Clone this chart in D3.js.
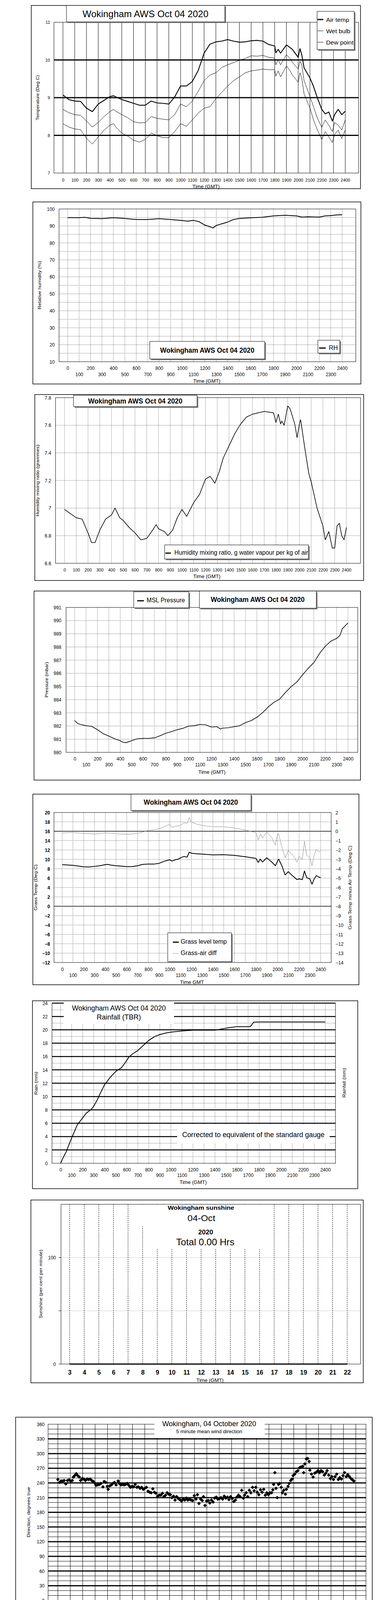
<!DOCTYPE html>
<html>
<head>
<meta charset="utf-8">
<script src="https://cdn.jsdelivr.net/npm/d3@7"></script>
<style>body{margin:0;background:#fff}svg{display:block}</style>
</head>
<body>
<script>
// ---------------- data ----------------
const timeTicks = [0,100,200,300,400,500,600,700,800,900,1000,1100,1200,1300,1400,1500,1600,1700,1800,1900,2000,2100,2200,2300,2400];
const evenTimeTicks = [0,200,400,600,800,1000,1200,1400,1600,1800,2000,2200,2400];
const oddTimeTicks = [100,300,500,700,900,1100,1300,1500,1700,1900,2100,2300];
const hourTicks = [0,1,2,3,4,5,6,7,8,9,10,11,12,13,14,15,16,17,18,19,20,21,22,23,24];
const evenHours = [0,2,4,6,8,10,12,14,16,18,20,22];
const oddHours = [1,3,5,7,9,11,13,15,17,19,21,23];

// temperatures, deg C
const tempTimes = [0,50,100,150,200,250,300,350,400,430,450,500,550,600,650,700,750,800,850,900,950,1000,1050,1100,1150,1200,1250,1300,1350,1400,1450,1500,1550,1600,1650,1700,1750,1800,1810,1830,1850,1900,1930,1950,2000,2015,2030,2050,2100,2130,2160,2200,2230,2260,2290,2310,2340,2370,2400];
const airTemp = [9.07,8.95,8.91,8.90,8.72,8.63,8.83,8.93,9.03,9.05,9.02,8.95,8.90,8.85,8.80,8.80,8.91,8.86,8.85,8.83,9.02,9.31,9.31,9.43,9.72,10.18,10.42,10.48,10.50,10.54,10.50,10.47,10.48,10.51,10.52,10.50,10.41,10.37,10.19,10.28,10.18,10.40,10.33,10.28,10.07,10.30,10.14,9.79,9.52,9.30,9.02,8.69,8.57,8.62,8.38,8.55,8.69,8.55,8.64];
const wetBulb = [8.69,8.60,8.55,8.53,8.38,8.22,8.34,8.50,8.63,8.69,8.64,8.55,8.47,8.36,8.33,8.34,8.50,8.45,8.43,8.41,8.55,8.83,8.76,8.91,9.17,9.45,9.60,9.66,9.80,9.87,9.93,9.99,10.04,10.11,10.10,10.12,10.07,10.05,9.87,10.01,9.87,10.14,10.04,9.94,9.76,9.97,9.87,9.45,9.03,8.76,8.48,8.21,8.41,8.27,8.10,8.34,8.27,8.14,8.41];
const dewPoint = [8.31,8.22,8.17,8.15,7.92,7.77,7.96,8.14,8.27,8.31,8.22,8.06,7.98,7.87,7.82,7.89,8.06,7.99,7.94,7.94,8.10,8.31,8.24,8.41,8.59,8.72,8.76,8.97,9.14,9.31,9.45,9.55,9.66,9.71,9.73,9.76,9.74,9.74,9.57,9.71,9.55,9.84,9.72,9.60,9.41,9.66,9.52,9.10,8.72,8.41,8.17,7.89,8.10,7.96,7.81,8.03,8.14,7.92,8.14];

// relative humidity, %
const rhTimes = [0,100,150,200,300,400,500,600,700,800,900,1000,1050,1100,1150,1200,1250,1270,1300,1350,1400,1450,1500,1600,1700,1800,1900,2000,2050,2100,2200,2250,2300,2350,2400];
const rhValues = [94.9,94.9,95.1,94.5,94.3,94.9,94.4,93.8,93.8,94.3,93.8,93.2,92.8,93.3,92.5,90.5,89.4,88.8,90.3,91.3,92.3,93.8,94.4,94.8,95.1,95.9,96.3,95.9,95.2,95.4,95.2,95.9,96.1,96.5,96.6];

// humidity mixing ratio, g/kg
const mixTimes = [0,50,100,150,200,230,260,300,350,400,430,470,500,550,600,650,700,750,780,800,850,880,920,960,1000,1040,1100,1150,1200,1240,1280,1320,1350,1400,1450,1500,1550,1600,1700,1780,1800,1820,1840,1850,1870,1900,1920,1960,1980,2000,2010,2050,2080,2100,2150,2200,2220,2250,2280,2300,2320,2340,2360,2380,2400];
const mixValues = [6.99,6.96,6.93,6.92,6.82,6.75,6.75,6.84,6.92,6.95,7.00,6.93,6.91,6.86,6.82,6.77,6.78,6.84,6.88,6.85,6.83,6.80,6.84,6.93,6.99,6.94,7.04,7.10,7.21,7.23,7.18,7.27,7.36,7.45,7.54,7.61,7.66,7.68,7.70,7.69,7.62,7.68,7.61,7.63,7.60,7.74,7.72,7.61,7.51,7.61,7.64,7.41,7.25,7.19,7.00,6.87,6.77,6.83,6.71,6.71,6.87,6.89,6.80,6.77,6.86];

// MSL pressure, mbar
const presTimes = [0,30,50,100,150,200,250,300,350,400,420,450,500,550,600,650,700,750,800,850,900,950,1000,1050,1100,1150,1200,1250,1280,1300,1350,1400,1450,1500,1550,1600,1650,1700,1750,1800,1850,1900,1950,2000,2050,2100,2150,2200,2250,2300,2330,2350,2400];
const presValues = [982.41,982.17,982.12,982.02,981.97,981.72,981.42,981.23,981.03,980.88,980.78,980.73,980.88,981.03,981.06,981.06,981.10,981.26,981.45,981.57,981.72,981.82,981.99,982.02,982.12,982.09,981.92,981.95,981.77,981.84,981.87,981.95,982.02,982.26,982.41,982.66,983.01,983.45,983.80,984.04,984.54,984.98,985.33,985.87,986.37,986.81,987.50,988.05,988.44,988.64,988.89,989.38,989.82];

// grass temperature and grass minus air, deg C
const grassTimes = [0,100,200,250,300,350,400,420,450,500,600,650,700,750,800,850,900,950,1000,1020,1050,1080,1100,1130,1160,1180,1200,1250,1300,1400,1500,1600,1700,1800,1820,1840,1860,1900,1950,1980,2000,2010,2040,2070,2100,2130,2160,2180,2200,2230,2250,2270,2300,2320,2340,2360,2380,2400];
const grassTemp = [8.87,8.73,8.42,8.37,8.51,8.65,8.87,8.93,8.79,8.65,8.45,8.45,8.65,8.93,8.99,8.99,9.15,9.63,9.92,9.63,9.92,10.06,10.34,10.62,10.48,11.52,11.32,11.18,11.13,10.96,10.99,10.85,10.56,10.20,9.35,10.06,9.44,10.34,9.35,8.65,9.63,10.06,8.65,6.68,7.38,6.68,6.11,5.69,5.83,5.69,7.52,6.11,5.83,4.70,5.83,6.54,6.25,6.11];
const grassDiff = [-0.18,-0.13,-0.23,-0.27,-0.30,-0.25,-0.18,-0.18,-0.22,-0.27,-0.32,-0.30,-0.23,-0.08,0.10,0.15,0.27,0.48,0.76,0.41,0.55,0.58,0.62,0.90,0.85,1.46,0.97,0.76,0.62,0.48,0.48,0.34,0.13,-0.15,-0.93,-0.30,-0.72,-0.08,-0.72,-1.49,-0.30,-0.25,-1.70,-2.83,-2.06,-2.41,-2.83,-3.32,-2.69,-2.97,-1.07,-2.55,-2.83,-3.68,-2.55,-1.92,-2.20,-2.13];

// accumulated rainfall, mm
const rainTimes = [0,20,50,100,150,200,230,280,300,330,360,400,450,500,550,580,620,650,700,750,800,850,900,950,1000,1100,1200,1300,1400,1450,1500,1550,1600,1720,1750,1800,2400];
const rainMm = [0,0.74,1.71,3.78,5.73,6.81,7.47,8.12,8.55,9.42,10.5,11.8,12.89,13.76,14.3,14.95,15.93,16.36,16.9,17.66,18.42,18.97,19.29,19.51,19.66,19.83,19.94,19.94,19.94,20.09,20.26,20.37,20.48,20.48,21.14,21.18,21.18];

// sunshine, per cent per minute
const sunHours = [3,4,5,6,7,8,9,10,11,12,13,14,15,16,17,18,19,20,21,22];
const sunValues = [0,0,0,0,0,0,0,0,0,0,0,0,0,0,0,0,0,0,0,0];

// 5 minute mean wind direction, degrees true
const dirHours = [0.00,0.14,0.26,0.39,0.51,0.64,0.77,0.90,1.03,1.16,1.25,1.35,1.48,1.60,1.73,1.83,1.96,2.09,2.22,2.35,2.47,2.60,2.73,2.86,2.99,3.08,3.21,3.34,3.47,3.63,3.73,3.86,3.98,4.05,4.18,4.31,4.43,4.56,4.69,4.85,4.95,5.08,5.20,5.33,5.46,5.59,5.72,5.85,5.98,6.10,6.23,6.36,6.49,6.62,6.75,6.88,7.00,7.13,7.26,7.39,7.52,7.65,7.77,7.90,8.03,8.16,8.29,8.42,8.54,8.67,8.80,8.93,9.06,9.19,9.32,9.44,9.57,9.70,9.83,9.96,10.09,10.22,10.35,10.47,10.60,10.73,10.86,10.99,11.12,11.24,11.37,11.50,11.63,11.73,11.85,11.98,12.11,12.24,12.37,12.50,12.63,12.76,12.88,13.01,13.14,13.27,13.40,13.53,13.65,13.78,13.91,14.04,14.17,14.30,14.42,14.55,14.68,14.81,14.94,15.04,15.17,15.29,15.42,15.55,15.68,15.81,15.94,16.06,16.19,16.32,16.45,16.58,16.71,16.83,16.96,17.09,17.22,17.32,17.38,17.48,17.57,17.67,17.77,17.86,17.99,18.09,18.19,18.33,18.41,18.54,18.63,18.76,18.86,18.95,19.08,19.21,19.34,19.47,19.60,19.73,19.80,19.89,20.02,20.12,20.24,20.30,20.43,20.56,20.69,20.82,20.95,21.08,21.20,21.33,21.46,21.59,21.69,21.82,21.95,22.07,22.20,22.33,22.46,22.59,22.71,22.84,22.97,23.10,23.23,23.35,23.48,23.61,23.74,23.84];
const dirDegrees = [247,241,244,244,245,238,245,246,244,245,252,255,259,255,252,245,249,248,245,248,247,248,245,243,239,235,236,237,239,232,243,241,233,227,234,236,239,241,236,244,239,236,237,236,237,239,235,231,233,232,237,231,232,229,231,227,229,231,223,221,220,228,221,219,213,215,215,219,212,215,220,217,216,210,213,205,212,208,206,203,207,205,209,205,207,205,204,214,207,216,198,207,204,212,194,203,204,199,205,201,209,211,207,208,210,207,213,209,211,206,212,208,202,205,211,215,212,225,209,215,220,212,225,220,231,224,231,221,216,226,221,227,215,220,216,220,220,226,237,261,229,210,237,239,231,220,225,217,227,233,239,245,248,255,258,263,265,271,273,274,261,279,289,290,284,266,258,252,260,262,265,261,265,263,256,260,265,256,249,253,247,253,258,247,251,248,255,261,253,257,253,249,246,244];

// wind speed, knots
const meanHours = [0,0.25,0.5,0.75,1,1.25,1.5,1.75,2,2.25,2.5,2.75,3,3.25,3.5,3.75,4,4.25,4.5,4.75,5,5.25,5.5,5.75,6,6.25,6.5,6.75,7,7.25,7.5,7.75,8,8.25,8.5,8.75,9,9.25,9.5,9.75,10,10.25,10.5,10.75,11,11.25,11.5,11.75,12,12.25,12.5,12.75,13,13.25,13.5,13.75,14,14.25,14.5,14.75,15,15.25,15.5,15.75,16,16.25,16.5,16.75,17,17.25,17.5,17.75,18,18.25,18.5,18.75,19,19.25,19.5,19.75,20,20.25,20.5,20.75,21,21.25,21.5,21.75,22,22.25,22.5,22.75,23,23.25,23.5,23.75,23.9];
const meanKnots = [7.47,8.8,7.7,8.25,9.3,8.25,8.5,8.0,9.3,9.8,9.3,8.9,8.8,8.25,8.5,8.7,8.25,9.0,10.3,11.1,10.6,11.3,11.1,10.6,10.6,10.3,9.5,10.3,11.4,11.0,10.1,10.6,10.3,10.9,11.3,11.6,10.4,11.8,10.9,11.6,11.0,11.1,11.9,12.4,11.1,11.6,11.4,10.3,11.9,13.2,12.7,12.0,11.8,12.2,12.5,12.0,11.4,10.6,10.1,9.8,10.3,9.8,10.1,9.4,8.5,7.7,7.5,7.2,6.7,5.6,4.6,5.6,5.1,4.7,4.6,5.1,5.9,5.1,4.1,3.6,2.6,4.3,3.6,3.0,4.1,4.5,4.1,3.1,3.0,3.4,3.6,3.6,4.2,4.6,4.7,3.3,3.8];
const gustHours = [0.0,0.1,0.2,0.3,0.45,0.6,0.75,0.9,1.0,1.2,1.35,1.5,1.65,1.8,2.0,2.1,2.3,2.5,2.65,2.8,3.0,3.15,3.3,3.5,3.65,3.8,4.0,4.1,4.3,4.45,4.6,4.75,4.9,5.05,5.25,5.4,5.55,5.7,5.85,6.0,6.15,6.3,6.5,6.6,6.75,6.9,7.1,7.25,7.4,7.55,7.8,7.95,8.1,8.3,8.5,8.65,8.85,9.0,9.15,9.3,9.5,9.65,9.8,9.95,10.1,10.25,10.4,10.6,10.75,10.9,11.05,11.2,11.35,11.5,11.7,11.9,12.1,12.25,12.4,12.55,12.7,12.85,13.05,13.2,13.35,13.5,13.65,13.8,13.95,14.1,14.25,14.4,14.55,14.7,14.85,15.0,15.15,15.3,15.45,15.6,15.75,15.9,16.05,16.2,16.35,16.5,16.7,16.85,17.0,17.15,17.3,17.45,17.6,17.75,17.9,18.05,18.2,18.35,18.5,18.65,18.8,18.95,19.1,19.25,19.4,19.55,19.7,19.85,20.0,20.1,20.25,20.4,20.55,20.7,20.85,21.0,21.15,21.3,21.45,21.6,21.75,21.9,22.05,22.2,22.35,22.5,22.65,22.8,22.95,23.1,23.25,23.4,23.55,23.7,23.85,23.95];
const gustKnots = [14.5,12.4,16.3,11.4,15.6,10.3,13.5,17.1,11.4,16.9,12.4,15.6,11.4,15.0,18.2,12.4,16.3,11.4,14.3,10.6,14.5,10.3,14.8,11.4,14.5,11.1,13.5,16.3,12.4,15.6,20.0,14.5,17.9,13.5,21.6,15.0,18.2,14.0,17.1,12.9,16.6,12.4,19.7,13.5,21.0,14.5,20.5,14.0,17.1,13.5,21.0,14.3,18.2,12.9,19.7,14.0,18.2,14.8,19.2,13.5,23.3,15.6,20.0,15.0,21.9,14.5,18.2,15.6,21.8,14.5,18.2,14.0,19.7,14.3,17.6,14.8,23.7,15.6,21.3,17.1,21.8,15.6,24.9,16.6,20.5,16.1,20.0,14.5,19.7,14.0,19.0,13.5,19.0,12.9,18.2,14.0,18.2,12.9,19.0,12.4,17.6,11.4,15.6,10.3,15.0,9.8,12.4,8.8,10.6,8.25,10.1,6.7,8.25,6.2,7.7,5.6,8.25,5.6,7.5,6.2,8.8,6.4,10.9,7.7,5.1,6.7,4.6,6.2,8.5,5.4,8.25,5.1,6.2,4.9,7.5,5.1,7.2,5.6,4.3,5.6,4.3,5.1,4.3,5.6,4.6,5.9,4.6,5.6,4.9,6.9,5.4,7.5,5.9,4.6,6.2,5.4];
// low speeds shown at x10 scale
const diamondHours = [19.79,19.80,19.82,19.84,19.86,19.89,19.90,19.92,19.94,19.97,19.99,20.02,20.01,20.14,20.15,20.12,20.10,20.12,20.08,20.09,20.47,20.51,20.50,20.53,20.56,20.57,20.59,20.63,20.66,20.74,20.86,20.87,20.84,20.84,20.82,20.94,20.94,20.89,21.54,21.54,21.57,21.60,21.63,21.65,21.68,21.81,21.84,21.88,21.86,21.91,21.94,21.98,22.04,22.11,22.14,22.09,22.17,22.27,22.25,22.29,22.37,22.43,22.50,22.57,22.65,22.60,22.73,22.80,22.86,22.93,22.98,23.05,23.08,23.10,23.13,23.16,23.06,23.75,23.77,23.95,23.92,23.93,23.78,23.82,23.86,23.85,24.00];
const diamondKnots = [39.2,37.4,37.0,36.5,35.2,32.8,32.1,31.3,30.0,28.2,26.4,25.1,24.5,39.1,35.7,33.2,31.3,30.4,29.1,28.2,39.6,37.6,35.9,34.8,33.5,32.6,31.1,30.2,29.3,27.8,37.0,36.0,33.5,32.4,31.1,39.2,38.5,34.1,38.8,37.0,35.7,34.1,33.0,31.9,31.3,36.5,35.9,35.2,34.3,33.7,32.6,31.3,30.8,30.4,29.5,32.4,33.0,35.9,34.6,33.5,32.6,32.1,31.1,37.0,37.9,35.7,36.0,35.0,34.6,35.7,36.3,34.3,35.9,37.4,38.5,39.6,37.0,39.2,37.4,38.3,37.0,35.7,34.8,33.5,32.8,32.1,38.5];

// ---------------- helpers ----------------
const NARROW = "'Liberation Sans Narrow','Arial Narrow',sans-serif";
const WIDE = "'Liberation Sans',Arial,sans-serif";
const TITLE = "Wokingham AWS Oct 04 2020";

const svg = d3.select("body").append("svg").attr("width", 1000).attr("height", 5000);
svg.append("rect").attr("width", 1000).attr("height", 5000).attr("fill", "#fff");

function box(x0, y0, x1, y1, o = {}) {
  if (o.shadow) svg.append("rect").attr("x", x0 + 3).attr("y", y0 + 3)
    .attr("width", x1 - x0).attr("height", y1 - y0).attr("fill", "#808080");
  svg.append("rect").attr("x", x0).attr("y", y0).attr("width", x1 - x0).attr("height", y1 - y0)
    .attr("fill", o.fill || "none").attr("stroke", o.stroke === undefined ? "#000" : o.stroke)
    .attr("stroke-width", o.sw || 1.5);
}

function txt(x, y, s, o = {}) {
  const t = svg.append("text").attr("x", x).attr("y", y)
    .attr("text-anchor", o.anchor || "middle").attr("dominant-baseline", "central")
    .attr("font-family", o.font || NARROW).attr("font-size", o.size || 13)
    .attr("font-weight", o.bold ? "bold" : "normal").attr("fill", "#000").text(s);
  if (o.len) t.attr("textLength", o.len).attr("lengthAdjust", "spacingAndGlyphs");
  if (o.rot) t.attr("transform", `rotate(-90 ${x} ${y})`);
  return t;
}
// rotated, letter-spaced axis titles
function yTitle(x, y, s, len) { return txt(x, y, s, {font: WIDE, size: 11, len: len, rot: true}); }

function hGrid(vals, y, x0, x1, o = {}) {
  svg.append("g").selectAll("line").data(vals).join("line")
    .attr("x1", x0).attr("x2", x1).attr("y1", d => y(d)).attr("y2", d => y(d))
    .attr("stroke", o.color || "#000").attr("stroke-width", o.w || 1)
    .attr("stroke-dasharray", o.dash || null);
}
function vGrid(vals, x, y0, y1, o = {}) {
  svg.append("g").selectAll("line").data(vals).join("line")
    .attr("x1", d => x(d)).attr("x2", d => x(d)).attr("y1", y0).attr("y2", y1)
    .attr("stroke", o.color || "#000").attr("stroke-width", o.w || 1)
    .attr("stroke-dasharray", o.dash || null);
}

function bottomLabels(scale, vals, y, o = {}) {
  const g = svg.append("g").attr("transform", `translate(0,${y})`)
    .call(d3.axisBottom(scale).tickValues(vals).tickSize(0).tickFormat(o.fmt || d3.format("d")));
  g.select(".domain").remove();
  g.selectAll("text").attr("y", 0).attr("dy", "0.35em")
    .attr("font-family", o.font || NARROW).attr("font-size", o.size || 12)
    .attr("font-weight", o.bold ? "bold" : "normal").attr("fill", "#000");
}
function sideLabels(scale, vals, x, o = {}) {
  const ax = o.right ? d3.axisRight(scale) : d3.axisLeft(scale);
  const g = svg.append("g").attr("transform", `translate(${x},0)`)
    .call(ax.tickValues(vals).tickSize(0).tickPadding(0).tickFormat(o.fmt || d3.format("d")));
  g.select(".domain").remove();
  g.selectAll("text").attr("x", 0).attr("dy", "0.35em")
    .attr("font-family", o.font || NARROW).attr("font-size", o.size || 12)
    .attr("font-weight", o.bold ? "bold" : "normal").attr("fill", "#000");
}

function clipRect(id, x0, y0, x1, y1) {
  svg.append("clipPath").attr("id", id).append("rect")
    .attr("x", x0).attr("y", y0).attr("width", x1 - x0).attr("height", y1 - y0);
}
function series(xs, ys, x, y, o = {}) {
  const line = d3.line().x((d, i) => x(xs[i])).y(d => y(d));
  svg.append("path").datum(ys).attr("d", line).attr("fill", "none")
    .attr("stroke", o.color || "#000").attr("stroke-width", o.w || 1)
    .attr("stroke-linejoin", "round").attr("clip-path", o.clip ? `url(#${o.clip})` : null);
}
function legendLine(x0, x1, y, o = {}) {
  svg.append("line").attr("x1", x0).attr("x2", x1).attr("y1", y).attr("y2", y)
    .attr("stroke", o.color || "#000").attr("stroke-width", o.w || 1);
}
const DOT = "1,2";

// ---------------- 1. temperatures ----------------
{
  const x = d3.scaleLinear().domain([0, 2400]).range([161, 883]);
  const y = d3.scaleLinear().domain([7, 11]).range([443, 57]);
  box(80, 14, 922, 483);
  vGrid(timeTicks, x, 57, 443);
  hGrid([8, 9, 10], y, 138, 917, {w: 3});
  box(138, 57, 917, 443, {sw: 1});
  clipRect("c1", 138, 57, 917, 443);
  series(tempTimes, dewPoint, x, y, {w: 1, clip: "c1"});
  series(tempTimes, wetBulb, x, y, {w: 1, clip: "c1"});
  series(tempTimes, airTemp, x, y, {w: 2.2, clip: "c1"});
  box(170, 14, 575, 56, {shadow: true, fill: "#fff", sw: 1});
  txt(372, 35, TITLE, {size: 24, len: 322});
  box(811, 29, 906, 127, {shadow: true, fill: "#fff", sw: 1});
  legendLine(812, 827, 50, {w: 3});
  legendLine(812, 827, 79);
  legendLine(812, 827, 108);
  txt(834, 50, "Air temp", {anchor: "start", size: 15, len: 59});
  txt(834, 79, "Wet bulb", {anchor: "start", size: 15, len: 62});
  txt(834, 108, "Dew point", {anchor: "start", size: 15, len: 70});
  sideLabels(y, [7, 8, 9, 10, 11], 128, {font: WIDE, size: 11});
  bottomLabels(x, timeTicks, 461, {size: 11});
  txt(527, 477, "Time (GMT)", {size: 13});
  yTitle(96, 250, "Temperature (Deg C)", 116);
}

// ---------------- 2. relative humidity ----------------
{
  const x = d3.scaleLinear().domain([0, 2400]).range([173, 875]);
  const y = d3.scaleLinear().domain([10, 100]).range([926, 535]);
  box(84, 517, 923, 983);
  hGrid([15,20,25,30,35,40,45,50,55,60,65,70,75,80,85,90,95], y, 151, 910, {dash: DOT});
  vGrid(timeTicks, x, 535, 926, {dash: DOT});
  box(151, 535, 910, 926, {sw: 1});
  clipRect("c2", 151, 535, 910, 926);
  series(rhTimes, rhValues, x, y, {w: 2, clip: "c2"});
  box(383, 874, 677, 919, {shadow: true, fill: "#fff", sw: 1});
  txt(530, 897, TITLE, {size: 18, bold: true, len: 241});
  box(813, 871, 869, 904, {shadow: true, fill: "#fff", sw: 1});
  legendLine(816, 833, 891, {w: 3});
  txt(841, 890, "RH", {anchor: "start", size: 16, len: 23});
  sideLabels(y, [10,20,30,40,50,60,70,80,90,100], 140);
  bottomLabels(x, evenTimeTicks, 943);
  bottomLabels(x, oddTimeTicks, 959);
  txt(529, 975, "Time (GMT)", {size: 13});
  yTitle(101, 730, "Relative humidity (%)", 124);
}

// ---------------- 3. mixing ratio ----------------
{
  const x = d3.scaleLinear().domain([0, 2400]).range([165, 886]);
  const y = d3.scaleLinear().domain([6.6, 7.8]).range([1442, 1018]);
  box(89, 1010, 930, 1486);
  hGrid([6.8, 7.0, 7.2, 7.4, 7.6], y, 142, 922, {dash: DOT});
  vGrid(timeTicks, x, 1018, 1442, {dash: DOT});
  box(142, 1018, 922, 1442, {sw: 1});
  clipRect("c3", 142, 1018, 922, 1442);
  series(mixTimes, mixValues, x, y, {w: 1.6, clip: "c3"});
  box(188, 1012, 504, 1041, {shadow: true, fill: "#fff", sw: 1});
  txt(346, 1027, TITLE, {size: 18, bold: true, len: 241});
  box(421, 1395, 789, 1431, {shadow: true, fill: "#fff", sw: 1});
  legendLine(423, 437, 1416, {w: 3});
  txt(446, 1414, "Humidity mixing ratio, g water vapour per kg of air", {anchor: "start", size: 16, len: 342});
  sideLabels(y, [6.6, 6.8, 7.0, 7.2, 7.4, 7.6, 7.8], 131, {fmt: d => d3.format(".1f")(d).replace(".0", "")});
  bottomLabels(x, timeTicks, 1459, {size: 11});
  txt(529, 1475, "Time (GMT)", {size: 13});
  yTitle(96, 1230, "Humidity mixing ratio (grammes)", 184);
}

// ---------------- 4. pressure ----------------
{
  const x = d3.scaleLinear().domain([0, 2400]).range([191, 890]);
  const y = d3.scaleLinear().domain([980, 991]).range([1926, 1555]);
  box(87, 1513, 922, 1997);
  hGrid([981,982,983,984,985,986,987,988,989,990], y, 169, 915, {dash: DOT});
  vGrid(timeTicks, x, 1555, 1926, {dash: DOT});
  box(169, 1555, 915, 1926, {sw: 1});
  clipRect("c4", 169, 1555, 915, 1926);
  series(presTimes, presValues, x, y, {w: 1.6, clip: "c4"});
  box(342, 1515, 483, 1556, {shadow: true, fill: "#fff", sw: 1});
  legendLine(351, 368, 1538, {w: 3});
  txt(375, 1536, "MSL Pressure", {anchor: "start", size: 16, len: 98});
  box(510, 1513, 809, 1557, {shadow: true, fill: "#fff", sw: 1});
  txt(659, 1535, TITLE, {size: 18, bold: true, len: 240});
  sideLabels(y, [980,981,982,983,984,985,986,987,988,989,990,991], 157);
  bottomLabels(x, evenTimeTicks, 1943);
  bottomLabels(x, oddTimeTicks, 1958);
  txt(542, 1976, "Time (GMT)", {size: 13});
  yTitle(119, 1740, "Pressure (mbar)", 91);
}

// ---------------- 5. grass temperature ----------------
{
  const x = d3.scaleLinear().domain([0, 2400]).range([159, 820]);
  const y = d3.scaleLinear().domain([-12, 20]).range([2464, 2080]);
  const yR = d3.scaleLinear().domain([-14, 2]).range([2464, 2080]);
  box(84, 2033, 918, 2521);
  hGrid([-10,-8,-6,-4,-2,2,4,6,8,10,12,14,18], y, 138, 847, {dash: DOT});
  hGrid([0, 16], y, 138, 847, {w: 1.5});
  vGrid(timeTicks, x, 2080, 2464, {dash: DOT});
  box(138, 2080, 847, 2464, {sw: 1});
  clipRect("c5", 138, 2080, 847, 2464);
  series(grassTimes, grassDiff, x, yR, {w: 1, color: "#8c8c8c", clip: "c5"});
  series(grassTimes, grassTemp, x, y, {w: 2, clip: "c5"});
  box(335, 2033, 642, 2075, {shadow: true, fill: "#fff", sw: 1});
  txt(488, 2054, TITLE, {size: 18, bold: true, len: 241});
  box(429, 2388, 592, 2462, {shadow: true, fill: "#fff", sw: 1});
  legendLine(442, 457, 2412, {w: 3});
  legendLine(442, 457, 2441, {color: "#8c8c8c"});
  txt(462, 2410, "Grass level temp", {anchor: "start", size: 16, len: 118});
  txt(462, 2439, "Grass-air diff", {anchor: "start", size: 16, len: 92});
  sideLabels(y, [-12,-10,-8,-6,-4,-2,0,2,4,6,8,10,12,14,16,18,20], 128, {bold: true});
  sideLabels(yR, [-14,-13,-12,-11,-10,-9,-8,-7,-6,-5,-4,-3,-2,-1,0,1,2], 858, {right: true});
  bottomLabels(x, evenTimeTicks, 2482);
  bottomLabels(x, oddTimeTicks, 2497);
  txt(491, 2514, "Time GMT", {size: 13});
  yTitle(91, 2272, "Grass Temp (Deg C)", 118);
  yTitle(895, 2272, "Grass Temp minus Air Temp (Deg C)", 215);
}

// ---------------- 6. rainfall ----------------
{
  const x = d3.scaleLinear().domain([0, 2400]).range([155, 832]);
  const y = d3.scaleLinear().domain([0, 24]).range([2978, 2568]);
  box(83, 2562, 915, 3043);
  hGrid([1,3,5,7,9,11,13,15,17,19,21,23], y, 133, 858, {dash: DOT});
  vGrid(timeTicks, x, 2568, 2978, {dash: DOT});
  hGrid([2,4,6,8,10,12,14,16,18,20,22,24], y, 133, 858, {w: 2.5});
  box(133, 2568, 858, 2978, {sw: 1});
  svg.append("rect").attr("x", 163).attr("y", 2566).attr("width", 282).attr("height", 55).attr("fill", "#fff");
  svg.append("rect").attr("x", 453).attr("y", 2880).attr("width", 390).attr("height", 48).attr("fill", "#fff");
  clipRect("c6", 133, 2568, 858, 2978);
  series(rainTimes, rainMm, x, y, {w: 2, clip: "c6"});
  txt(304, 2581, TITLE, {size: 18, len: 240});
  txt(304, 2604, "Rainfall (TBR)", {size: 18, len: 113});
  txt(466, 2905, "Corrected to equivalent of the standard gauge", {anchor: "start", size: 18, len: 364});
  sideLabels(y, [0,2,4,6,8,10,12,14,16,18,20,22,24], 122);
  bottomLabels(x, evenTimeTicks, 2995);
  bottomLabels(x, oddTimeTicks, 3009);
  txt(494, 3026, "Time (GMT)", {size: 13});
  yTitle(92, 2773, "Rain (mm)", 59);
  yTitle(880, 2772, "Rainfall (mm)", 76);
}

// ---------------- 7. sunshine ----------------
{
  const x = d3.scaleLinear().domain([3, 22]).range([178, 888]);
  const y = d3.scaleLinear().domain([0, 150]).range([3492, 3083]);
  box(79, 3072, 929, 3540);
  hGrid([50, 100], y, 156, 922, {dash: "1,1", color: "#9a9a9a"});
  vGrid(sunHours, x, 3083, 3492, {dash: "3,2"});
  box(156, 3083, 922, 3492, {sw: 1});
  svg.append("g").selectAll("line").data([0, 50, 100]).join("line")
    .attr("x1", 150).attr("x2", 156).attr("y1", d => y(d)).attr("y2", d => y(d))
    .attr("stroke", "#000");
  svg.append("rect").attr("x", 351).attr("y", 3084).attr("width", 331).attr("height", 55).attr("fill", "#fff");
  svg.append("rect").attr("x", 367).attr("y", 3138).attr("width", 300).attr("height", 58).attr("fill", "#fff");
  series(sunHours, sunValues, x, y, {w: 3});
  txt(514, 3091, "Wokingham sunshine", {size: 15, bold: true, len: 170});
  txt(515, 3118, "04-Oct", {size: 22, len: 71});
  txt(526, 3154, "2020", {size: 16, bold: true, len: 38});
  txt(525, 3179, "Total 0.00 Hrs", {size: 24, len: 149});
  sideLabels(y, [0, 100], 143);
  bottomLabels(x, sunHours, 3513, {size: 16, bold: true});
  txt(537, 3533, "Time (GMT)", {size: 13});
  yTitle(104, 3287, "Sunshine (per cent per minute)", 176);
}

// ---------------- 8. wind direction ----------------
{
  const x = d3.scaleLinear().domain([0, 24]).range([148, 910]);
  const y = d3.scaleLinear().domain([0, 360]).range([4097, 3646]);
  box(40, 3628, 952, 4144);
  hGrid([10,20,40,50,70,80,100,110,130,140,160,170,190,200,220,230,250,260,280,290,310,320,340,350], y, 123, 936);
  vGrid(hourTicks, x, 3646, 4097);
  hGrid([30,60,90,120,150,180,210,240,270,300,330], y, 123, 936, {w: 3});
  box(123, 3646, 936, 4097, {sw: 1});
  svg.append("rect").attr("x", 395).attr("y", 3633).attr("width", 282).attr("height", 48).attr("fill", "#fff");
  svg.append("g").selectAll("path").data(dirDegrees).join("path")
    .attr("d", d3.symbol(d3.symbolSquare, 42))
    .attr("transform", (d, i) => `translate(${x(dirHours[i])},${y(d)}) rotate(45)`)
    .attr("fill", "#000");
  txt(535, 3645, "Wokingham,  04 October 2020", {size: 18, len: 240});
  txt(535, 3665, "5 minute mean wind direction", {size: 12, len: 169});
  sideLabels(y, [0,30,60,90,120,150,180,210,240,270,300,330,360], 114);
  bottomLabels(x, hourTicks, 4114, {size: 13});
  txt(528, 4132, "Time (GMT)", {size: 13});
  yTitle(73, 3871, "Direction, degrees true", 129);
}

// ---------------- 9. wind speed ----------------
{
  const x = d3.scaleLinear().domain([0, 23]).range([123, 874]);
  const y = d3.scaleLinear().domain([0, 50]).range([4591, 4211]);
  box(42, 4168, 955, 4663);
  hGrid([5,10,15,20,25,30,35,40,45], y, 101, 949, {dash: DOT});
  vGrid(evenHours.concat(oddHours), x, 4211, 4591, {dash: DOT});
  box(101, 4211, 949, 4591, {sw: 1});
  clipRect("c9", 101, 4211, 949, 4591);
  series(gustHours, gustKnots, x, y, {w: 1.1, color: "#4a4a4a", clip: "c9"});
  series(meanHours, meanKnots, x, y, {w: 2, clip: "c9"});
  svg.append("g").selectAll("path").data(diamondKnots).join("path")
    .attr("d", d3.symbol(d3.symbolSquare, 34))
    .attr("transform", (d, i) => `translate(${x(diamondHours[i])},${y(d)}) rotate(45)`)
    .attr("fill", "#c8c8c8").attr("stroke", "#000").attr("stroke-width", 0.8);
  txt(270, 4190, "Wokingham,  04 October 2020", {size: 20, bold: true, len: 243});
  txt(578, 4181, "Wind speed, 10 min mean / max gust", {size: 13, len: 218});
  txt(578, 4197, "Speeds below 4 kt shown at x10 scale", {size: 13, len: 209});
  box(731, 4174, 950, 4199, {shadow: true, fill: "#fff", sw: 1});
  legendLine(762, 773, 4188, {w: 3});
  txt(781, 4187, "Speed x 1", {anchor: "start", size: 11, len: 46});
  svg.append("path").attr("d", d3.symbol(d3.symbolSquare, 30))
    .attr("transform", "translate(853,4188) rotate(45)")
    .attr("fill", "#c8c8c8").attr("stroke", "#000").attr("stroke-width", 0.8);
  txt(865, 4187, "Speed / 10", {anchor: "start", size: 11, len: 51});
  sideLabels(y, [0, 10, 20, 30, 40, 50], 88, {size: 13});
  const hh = d => String(d).padStart(2, "0") + ":00";
  bottomLabels(x, evenHours, 4609, {fmt: hh});
  bottomLabels(x, oddHours, 4623, {fmt: hh});
  txt(524, 4640, "Time (GMT)", {size: 13});
  yTitle(55, 4401, "Speed (knots)", 80);
}
</script>
</body>
</html>
